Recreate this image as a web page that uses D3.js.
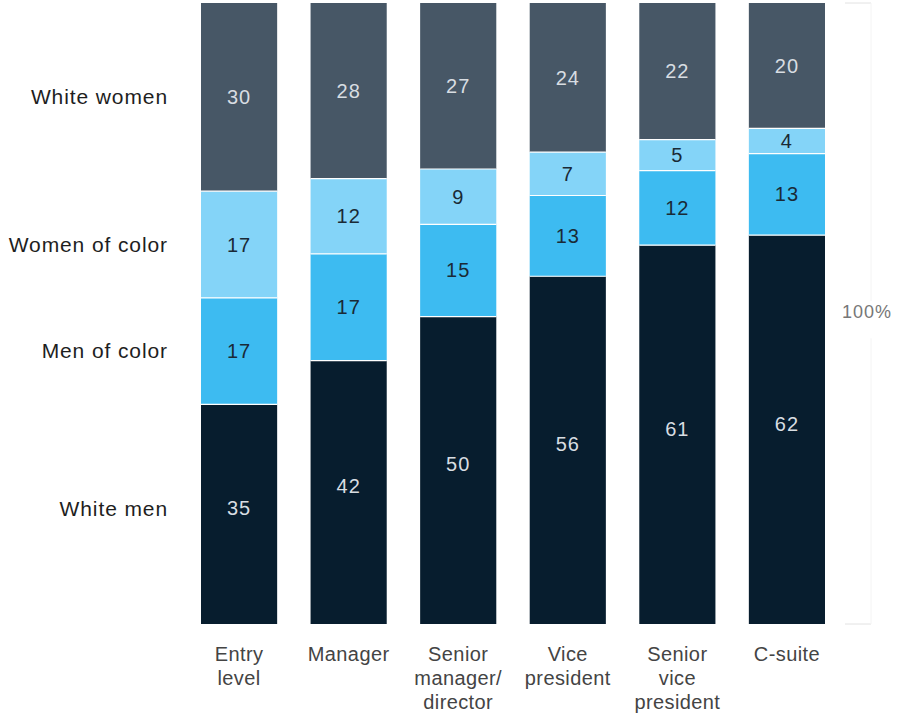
<!DOCTYPE html>
<html>
<head>
<meta charset="utf-8">
<script src="https://cdn.jsdelivr.net/npm/d3@7"></script>
<style>
  html, body { margin: 0; padding: 0; background: #fff; }
  svg { display: block; font-family: "Liberation Sans", Arial, sans-serif; }
</style>
</head>
<body>
<svg id="chart" width="899" height="715"></svg>
<script>
const categories = [["Entry", "level"], ["Manager"], ["Senior", "manager/", "director"], ["Vice", "president"], ["Senior", "vice", "president"], ["C-suite"]];
const seriesNames = ["White men", "Men of color", "Women of color", "White women"];
const whiteMen = [35, 42, 50, 56, 61, 62];
const menOfColor = [17, 17, 15, 13, 12, 13];
const womenOfColor = [17, 12, 9, 7, 5, 4];
const whiteWomen = [30, 28, 27, 24, 22, 20];
const axisLabel = "100%";

(function () {
const colors = ["#071d2e", "#3dbbf1", "#84d4f8", "#475766"];
const textColors = ["#d8dde2", "#1a2a36", "#1a2a36", "#d8dde2"];
const labelShift = [-6, 0, 0, 0];

const keys = ["wm", "mc", "wc", "ww"];
const rows = categories.map((c, i) => ({
  idx: i, wm: whiteMen[i], mc: menOfColor[i], wc: womenOfColor[i], ww: whiteWomen[i]
}));

const stack = d3.stack().keys(keys).offset(d3.stackOffsetExpand);
const series = stack(rows);

const svg = d3.select("#chart");
const yTop = 3, yBottom = 624;
const x = d3.scaleBand().domain(d3.range(categories.length)).range([201, 825]).paddingInner(0.305).paddingOuter(0);
const y = d3.scaleLinear().domain([0, 1]).range([yBottom, yTop]);
const mid = (d, si) => (y(d[0]) + y(d[1])) / 2 + labelShift[si];

const g = svg.append("g");
series.forEach((s, si) => {
  const grp = g.append("g");
  grp.selectAll("rect").data(s).join("rect")
    .attr("x", d => x(d.data.idx))
    .attr("y", d => y(d[1]))
    .attr("width", x.bandwidth())
    .attr("height", d => y(d[0]) - y(d[1]))
    .attr("fill", colors[si]);
  grp.selectAll("text").data(s).join("text")
    .attr("x", d => x(d.data.idx) + x.bandwidth() / 2)
    .attr("y", d => mid(d, si))
    .attr("dy", "0.35em")
    .attr("text-anchor", "middle")
    .attr("font-size", 20)
    .attr("letter-spacing", 1)
    .attr("fill", textColors[si])
    .text(d => d.data[keys[si]]);
});

// white separators between segments
series.slice(1).forEach(s => {
  g.append("g").selectAll("line").data(s).join("line")
    .attr("x1", d => x(d.data.idx))
    .attr("x2", d => x(d.data.idx) + x.bandwidth())
    .attr("y1", d => y(d[0]))
    .attr("y2", d => y(d[0]))
    .attr("stroke", "#fff")
    .attr("stroke-width", 1.2);
});

// Left series labels aligned to entry-level segments
const first = series.map(s => s[0]);
svg.append("g").selectAll("text").data(first).join("text")
  .attr("x", 168)
  .attr("y", (d, i) => mid(d, i))
  .attr("dy", "0.35em")
  .attr("text-anchor", "end")
  .attr("font-size", 21)
  .attr("letter-spacing", 0.9)
  .attr("fill", "#1e1e1e")
  .text((d, i) => seriesNames[i]);

// Bottom category labels
const xl = svg.append("g");
categories.forEach((lines, i) => {
  const t = xl.append("text")
    .attr("x", x(i) + x.bandwidth() / 2)
    .attr("y", 661)
    .attr("text-anchor", "middle")
    .attr("font-size", 20)
    .attr("letter-spacing", 0.4)
    .attr("fill", "#444");
  lines.forEach((ln, j) => {
    t.append("tspan").attr("x", x(i) + x.bandwidth() / 2).attr("dy", j === 0 ? 0 : 24).text(ln);
  });
});

// Right scale bracket
const r = svg.append("g").attr("stroke", "#e2e2e2").attr("stroke-width", 1);
r.append("line").attr("x1", 845).attr("x2", 871).attr("y1", y(1)).attr("y2", y(1));
r.append("line").attr("x1", 845).attr("x2", 871).attr("y1", y(0)).attr("y2", y(0));
r.append("line").attr("x1", 871).attr("x2", 871).attr("y1", y(1)).attr("y2", y(0.52)).attr("stroke", "#f4f4f4");
r.append("line").attr("x1", 871).attr("x2", 871).attr("y1", y(0.46)).attr("y2", y(0)).attr("stroke", "#f4f4f4");
svg.append("text")
  .attr("x", 842)
  .attr("y", y(0.5) - 2)
  .attr("dy", "0.35em")
  .attr("font-size", 18)
  .attr("letter-spacing", 1)
  .attr("fill", "#777")
  .text(axisLabel);
})();
</script>
</body>
</html>
